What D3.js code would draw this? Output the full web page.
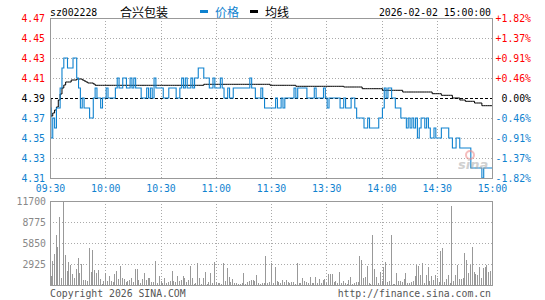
<!DOCTYPE html>
<html>
<head>
<meta charset="utf-8">
<script src="https://cdn.jsdelivr.net/npm/d3@7"></script>
<style>
body { margin: 0; background: #fff; }
svg { display: block; }
</style>
</head>
<body>
<svg width="545" height="300"></svg>
<script>
// Chart data
var stockCode = "sz002228";
var stockName = "合兴包装";
var stamp = "2026-02-02 15:00:00";
var prevClose = 4.39;
var priceTicks = [4.31, 4.33, 4.35, 4.37, 4.39, 4.41, 4.43, 4.45, 4.47];
var pctLabels = ["-1.82%", "-1.37%", "-0.91%", "-0.46%", "0.00%", "+0.46%", "+0.91%", "+1.37%", "+1.82%"];
var timeIdx = [0, 30, 60, 90, 120, 150, 180, 210, 240];
var timeLabels = ["09:30", "10:00", "10:30", "11:00", "11:30", "13:30", "14:00", "14:30", "15:00"];
var volTicks = [2925, 5850, 8775, 11700];

// one price per minute
var price = [
  4.38,4.35,4.37,4.36,4.38,4.38,4.40,4.42,4.43,4.43,
  4.42,4.42,4.42,4.43,4.43,4.41,4.40,4.38,4.39,4.38,
  4.38,4.38,4.37,4.37,4.39,4.40,4.39,4.39,4.38,4.39,
  4.39,4.40,4.39,4.39,4.39,4.39,4.40,4.41,4.40,4.40,
  4.41,4.41,4.40,4.40,4.41,4.40,4.41,4.40,4.40,4.40,
  4.39,4.39,4.39,4.40,4.39,4.40,4.39,4.41,4.40,4.40,
  4.40,4.40,4.39,4.39,4.39,4.40,4.40,4.40,4.40,4.39,
  4.39,4.40,4.41,4.40,4.41,4.40,4.40,4.41,4.40,4.41,
  4.41,4.42,4.42,4.42,4.41,4.41,4.41,4.40,4.40,4.41,
  4.40,4.40,4.40,4.41,4.40,4.39,4.39,4.40,4.39,4.39,
  4.40,4.40,4.40,4.40,4.40,4.40,4.40,4.40,4.40,4.41,
  4.40,4.40,4.39,4.39,4.39,4.40,4.39,4.38,4.38,4.38,
  4.38,4.38,4.38,4.39,4.38,4.38,4.39,4.38,4.39,4.39,
  4.39,4.39,4.39,4.40,4.39,4.40,4.40,4.40,4.40,4.40,
  4.39,4.39,4.39,4.39,4.40,4.39,4.39,4.39,4.39,4.40,
  4.39,4.38,4.39,4.39,4.39,4.39,4.39,4.39,4.38,4.38,
  4.39,4.38,4.38,4.38,4.39,4.39,4.38,4.37,4.37,4.37,
  4.37,4.36,4.36,4.37,4.36,4.36,4.36,4.36,4.36,4.37,
  4.37,4.38,4.40,4.39,4.40,4.40,4.39,4.39,4.38,4.38,
  4.38,4.37,4.37,4.37,4.36,4.37,4.36,4.37,4.36,4.37,
  4.35,4.36,4.37,4.37,4.36,4.37,4.36,4.35,4.35,4.36,
  4.35,4.35,4.35,4.36,4.36,4.36,4.36,4.35,4.35,4.34,
  4.34,4.35,4.35,4.34,4.34,4.34,4.34,4.34,4.34,4.32,
  4.32,4.32,4.32,4.32,4.32,4.31,4.32,4.32,4.32,4.32,
  4.32
];

// average line: [value, number of minutes]
var avgRuns = [
  [4.390,1],[4.372,1],[4.375,1],[4.378,1],[4.381,1],[4.388,1],[4.394,1],[4.400,1],[4.403,1],
  [4.406,3],[4.408,3],[4.409,3],[4.408,1],[4.407,1],[4.406,1],[4.405,3],[4.404,1],
  [4.4027,59],[4.4037,36],[4.4027,14],[4.4017,26],[4.401,10],[4.3993,11],[4.3977,11],
  [4.396,16],[4.3943,5],[4.3927,6],[4.390,4],[4.388,3],[4.3867,5],[4.385,4],[4.3823,6]
];

var volume = [
  1254,3343,4318,6965,5340,9518,1021,11700,4179,1950,
  3157,2786,1532,1021,2229,3807,1718,2879,696,696,
  557,5200,1857,4875,2089,1625,2089,836,186,557,
  1625,557,1254,557,371,1486,1950,789,2647,1021,
  836,371,604,696,1021,371,2229,2229,696,325,
  789,1718,696,929,1021,371,464,3343,232,1300,
  557,325,1021,232,371,604,1950,557,371,1254,
  604,696,1254,929,371,650,2647,1021,139,300,
  3018,1021,93,1021,1764,93,371,1718,279,3204,
  371,325,232,93,3018,557,2368,1161,464,836,
  325,279,139,186,325,1671,186,371,557,696,
  743,500,1393,279,186,325,279,4086,232,464,
  3018,300,2461,557,371,232,696,464,696,371,
  232,371,371,186,3018,232,325,929,557,464,
  279,1114,279,279,1114,232,836,232,696,836,
  232,1486,1532,1532,371,557,325,1764,325,511,
  232,93,696,1114,139,232,464,371,4039,3482,
  929,1068,2647,279,93,6965,2229,1114,232,1764,
  557,2461,3157,371,557,6965,93,93,1625,557,
  557,371,836,1671,279,279,371,557,1254,2786,
  2600,1393,3111,279,1393,2554,557,1300,696,1393,
  1021,371,4736,5154,371,836,1393,325,11004,557,
  1393,2786,836,836,1021,4457,3482,1671,2786,5293,
  1764,1579,1393,2507,975,2321,2461,2786,1850,1950,
  2321
];

var avg = [];
avgRuns.forEach(function(r) { for (var k = 0; k < r[1]; k++) avg.push(r[0]); });

var RED = "#ff0000", BLUE = "#0f82cf", GRID = "#aaaaaa", FRAME = "#999999";
var MONO = "'DejaVu Sans Mono', monospace";
var CJK = "'Noto Sans CJK SC', sans-serif";

var svg = d3.select("svg");
var left = 50, right = 492;
var pTop = 18, pBottom = 178, vTop = 201, vBottom = 285;

var x = d3.scaleLinear().domain([0, 240]).range([left, right]);
var y = d3.scaleLinear().domain([4.31, 4.47]).range([pBottom, pTop]);
var yv = d3.scaleLinear().domain([0, 11700]).range([vBottom, vTop]).clamp(true);

function colorFor(p) {
  if (Math.abs(p - prevClose) < 1e-6) return "#000";
  return p > prevClose ? RED : BLUE;
}

// ------
// Header
// ------
var head = svg.append("g");
head.append("text").attr("x", 50).attr("y", 16).attr("font-family", MONO).attr("font-size", 9.8)
  .text(stockCode);
head.append("text").attr("x", 120).attr("y", 17).attr("font-family", CJK).attr("font-size", 12)
  .text(stockName);
head.append("rect").attr("x", 200).attr("y", 10).attr("width", 8).attr("height", 3).attr("fill", BLUE);
head.append("text").attr("x", 215).attr("y", 17).attr("font-family", CJK).attr("font-size", 12)
  .attr("fill", BLUE).text("价格");
head.append("rect").attr("x", 250).attr("y", 10).attr("width", 8).attr("height", 3).attr("fill", "#000");
head.append("text").attr("x", 265).attr("y", 17).attr("font-family", CJK).attr("font-size", 12)
  .text("均线");
head.append("text").attr("x", 491).attr("y", 16).attr("text-anchor", "end")
  .attr("font-family", MONO).attr("font-size", 9.8).text(stamp);

// ------
// Grids
// ------
var grid = svg.append("g").attr("stroke", GRID).attr("stroke-dasharray", "1,2").attr("shape-rendering", "crispEdges");
timeIdx.slice(1, -1).forEach(function(t) {
  var gx = Math.round(x(t)) + 0.5;
  grid.append("line").attr("x1", gx).attr("x2", gx).attr("y1", pTop).attr("y2", pBottom);
  grid.append("line").attr("x1", gx).attr("x2", gx).attr("y1", vTop).attr("y2", vBottom);
});
priceTicks.slice(1, -1).forEach(function(p) {
  if (p === prevClose) return;
  var gy = Math.round(y(p)) + 0.5;
  grid.append("line").attr("x1", left).attr("x2", right).attr("y1", gy).attr("y2", gy);
});
volTicks.slice(0, -1).forEach(function(v) {
  var gy = Math.round(yv(v)) + 0.5;
  grid.append("line").attr("x1", left).attr("x2", right).attr("y1", gy).attr("y2", gy);
});

// previous close
svg.append("line")
  .attr("x1", left).attr("x2", right)
  .attr("y1", Math.round(y(prevClose)) + 0.5).attr("y2", Math.round(y(prevClose)) + 0.5)
  .attr("stroke", "#000").attr("stroke-dasharray", "3,2").attr("shape-rendering", "crispEdges");

// ------
// Volume bars
// ------
svg.append("g").selectAll("rect").data(volume).enter().append("rect")
  .attr("x", function(d, i) { return Math.max(left + 1, Math.round(x(i))); })
  .attr("y", function(d) { return Math.round(yv(d)); })
  .attr("width", 1)
  .attr("height", function(d) { return vBottom - Math.round(yv(d)); })
  .attr("fill", FRAME)
  .attr("shape-rendering", "crispEdges");

// ------
// Lines
// ------
var line = d3.line()
  .x(function(d, i) { return x(i); })
  .y(function(d) { return y(d); })
  .curve(d3.curveStep);

svg.append("path").datum(avg).attr("d", line)
  .attr("fill", "none").attr("stroke", "#000").attr("stroke-width", 1);
svg.append("path").datum(price).attr("d", line)
  .attr("fill", "none").attr("stroke", BLUE).attr("stroke-width", 1.1);

// watermark
var wm = svg.append("g").attr("opacity", 0.55);
wm.append("circle").attr("cx", 470).attr("cy", 155).attr("r", 4)
  .attr("fill", "none").attr("stroke", "#e88").attr("stroke-width", 2);
wm.append("text").attr("x", 458).attr("y", 169).attr("font-family", "'DejaVu Sans', sans-serif")
  .attr("font-size", 13).attr("font-weight", "bold").attr("font-style", "italic")
  .attr("fill", "#aaa").text("sina");

// ------
// Frames
// ------
svg.append("rect").attr("x", left + 0.5).attr("y", pTop + 0.5).attr("width", right - left).attr("height", pBottom - pTop)
  .attr("fill", "none").attr("stroke", FRAME).attr("shape-rendering", "crispEdges");
svg.append("rect").attr("x", left + 0.5).attr("y", vTop + 0.5).attr("width", right - left).attr("height", vBottom - vTop)
  .attr("fill", "none").attr("stroke", FRAME).attr("shape-rendering", "crispEdges");

// ------
// Axes
// ------
function styleAxis(g) {
  g.select(".domain").remove();
  g.selectAll(".tick line").remove();
  g.attr("font-family", MONO).attr("font-size", 9.8);
}

var yLeft = svg.append("g").attr("transform", "translate(" + left + ",0)")
  .call(d3.axisLeft(y).tickValues(priceTicks).tickSize(0).tickPadding(5).tickFormat(d3.format(".2f")))
  .call(styleAxis);
yLeft.selectAll("text").attr("fill", function(d) { return colorFor(d); });

var yRight = svg.append("g").attr("transform", "translate(" + right + ",0)")
  .call(d3.axisRight(y).tickValues(priceTicks).tickSize(0)
    .tickFormat(function(d, i) { return pctLabels[i]; }))
  .call(styleAxis);
yRight.selectAll("text").attr("text-anchor", "end").attr("x", 39)
  .attr("fill", function(d) { return colorFor(d); });

var xAxis = svg.append("g").attr("transform", "translate(0," + pBottom + ")")
  .call(d3.axisBottom(x).tickValues(timeIdx).tickSize(0).tickPadding(7)
    .tickFormat(function(d, i) { return timeLabels[i]; }))
  .call(styleAxis);
xAxis.selectAll("text").attr("fill", BLUE);

var vAxis = svg.append("g").attr("transform", "translate(" + left + ",0)")
  .call(d3.axisLeft(yv).tickValues(volTicks).tickSize(0).tickPadding(4).tickFormat(d3.format("d")))
  .call(styleAxis);
vAxis.selectAll("text").attr("fill", "#888");

// footer
svg.append("text").attr("x", 50).attr("y", 297).attr("font-family", MONO).attr("font-size", 9.8)
  .attr("fill", "#555").text("Copyright 2026 SINA.COM");
svg.append("text").attr("x", 491).attr("y", 297).attr("text-anchor", "end").attr("font-family", MONO)
  .attr("font-size", 9.8).attr("fill", "#555").text("http://finance.sina.com.cn");
</script>
</body>
</html>
